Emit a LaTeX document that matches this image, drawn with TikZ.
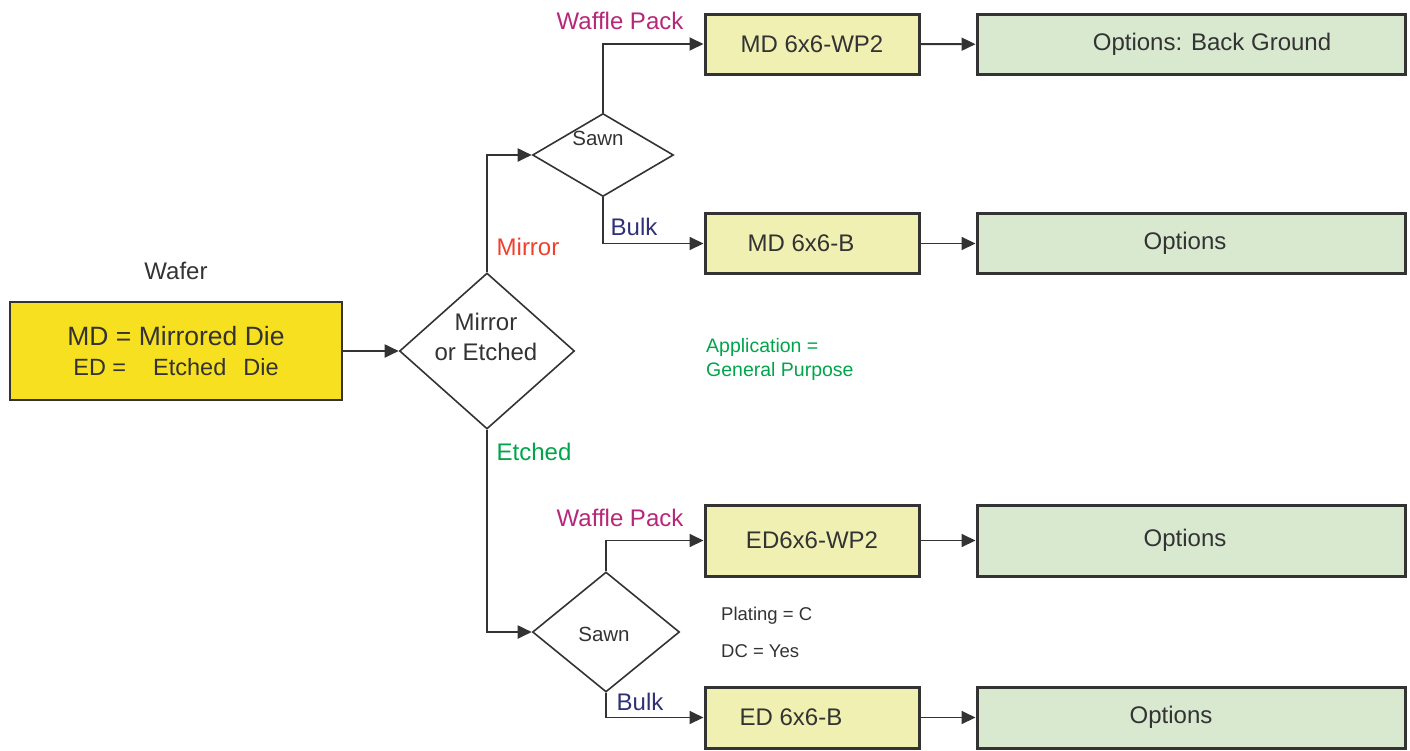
\documentclass[tikz,border=0pt]{standalone}
\usepackage{fontspec}
\setmainfont{Liberation Sans}
\definecolor{waferyellow}{RGB}{247,224,32}
\definecolor{partyellow}{RGB}{239,240,178}
\definecolor{optgreen}{RGB}{216,233,208}
\definecolor{darkline}{RGB}{51,51,51}
\definecolor{wafflemagenta}{RGB}{183,38,120}
\definecolor{mirrorred}{RGB}{238,64,45}
\definecolor{bulkblue}{RGB}{48,48,120}
\definecolor{etchgreen}{RGB}{0,165,75}
\usetikzlibrary{shapes,arrows.meta,positioning,calc}

\begin{document}
\begin{tikzpicture}[x=1pt, y=-1pt, font=\fontsize{24}{30}\selectfont, text=darkline,
    partbox/.style={rectangle, draw=darkline, line width=3pt, fill=partyellow, minimum width=214pt, minimum height=60pt},
    optbox/.style={rectangle, draw=darkline, line width=3pt, fill=optgreen, minimum width=428pt, minimum height=60pt},
    decision/.style={diamond, draw=darkline, line width=1.6pt, inner sep=0pt},
    flow/.style={->, line width=1.9pt, draw=darkline},
    >={Triangle[length=14pt, width=13pt]}]
    \useasboundingbox (0,0) rectangle (1410,750);

    % wafer and first decision
    \node[rectangle, draw=darkline, line width=2pt, fill=waferyellow, minimum width=332pt, minimum height=98pt, align=center] (wafer) at (176,351)
        {{\fontsize{26.5}{27}\selectfont MD = Mirrored Die}\\{\fontsize{23.5}{26}\selectfont ED =\hspace{27pt}Etched\hspace{17pt}Die}};
    \node (waferlabel) at (176,271) {Wafer};
    \node[decision, minimum width=175pt, minimum height=156pt] (mirror) at (487,351) {};
    \node[align=center] (mirrortext) at (486,337) {Mirror\\or Etched};

    % sawn decisions
    \node[decision, minimum width=141pt, minimum height=83pt] (sawnA) at (603,155) {};
    \node[font=\fontsize{20.5}{24}\selectfont] (sawnAtext) at (598,138) {Sawn};
    \node[decision, minimum width=147pt, minimum height=120pt] (sawnB) at (606,632) {};
    \node[font=\fontsize{20.5}{24}\selectfont] (sawnBtext) at (604,634) {Sawn};

    % part numbers
    \node[partbox] (mdwp) at (812,44) {MD 6x6-WP2};
    \node[partbox] (mdb) at (812,243.5) {MD 6x6-B\hspace*{22pt}};
    \node[partbox, minimum height=71pt] (edwp) at (812,540.5) {ED6x6-WP2};
    \node[partbox, minimum height=61pt] (edb) at (812,717.5) {ED 6x6-B\hspace*{42pt}};

    % options
    \node[optbox] (optmdwp) at (1191,44.5) {\hspace*{42pt}Options: Back Ground};
    \node[optbox] (optmdb) at (1191,243.5) {Options\hspace*{12pt}};
    \node[optbox, minimum height=71pt] (optedwp) at (1191,540.5) {Options\hspace*{12pt}};
    \node[optbox, minimum height=61pt] (optedb) at (1191,717.5) {Options\hspace*{40pt}};

    % branch labels
    \node[text=mirrorred] (mirrorlabel) at (528,247) {Mirror};
    \node[text=etchgreen] (etchedlabel) at (534,452) {Etched};
    \node[text=wafflemagenta] (waffleA) at (620,21) {Waffle Pack};
    \node[text=wafflemagenta] (waffleB) at (620,518) {Waffle Pack};
    \node[text=bulkblue] (bulkA) at (634,227) {Bulk};
    \node[text=bulkblue] (bulkB) at (640,702) {Bulk};

    % notes
    \node[text=etchgreen, align=left, anchor=west, inner sep=0pt, font=\fontsize{19.5}{24}\selectfont] (application) at (706,359) {Application =\\General Purpose};
    \node[anchor=west, inner sep=0pt, font=\fontsize{18.5}{22}\selectfont] (plating) at (721,616) {Plating = C};
    \node[anchor=west, inner sep=0pt, font=\fontsize{18.5}{22}\selectfont] (dc) at (721,651) {DC = Yes};

    % connectors
    \draw[flow] (wafer) -- (mirror);
    \draw[flow] (mirror.north) |- (sawnA.west);
    \draw[flow] (mirror.south) |- (sawnB.west);
    \draw[flow] (sawnA.north) |- (mdwp.west);
    \draw[flow] (sawnA.south) |- (mdb.west);
    \draw[flow] (sawnB.north) |- (edwp.west);
    \draw[flow] (sawnB.south) |- (edb.west);
    \draw[flow] (mdwp) -- (optmdwp);
    \draw[flow] (mdb) -- (optmdb);
    \draw[flow] (edwp) -- (optedwp);
    \draw[flow] (edb) -- (optedb);
\end{tikzpicture}
\end{document}
